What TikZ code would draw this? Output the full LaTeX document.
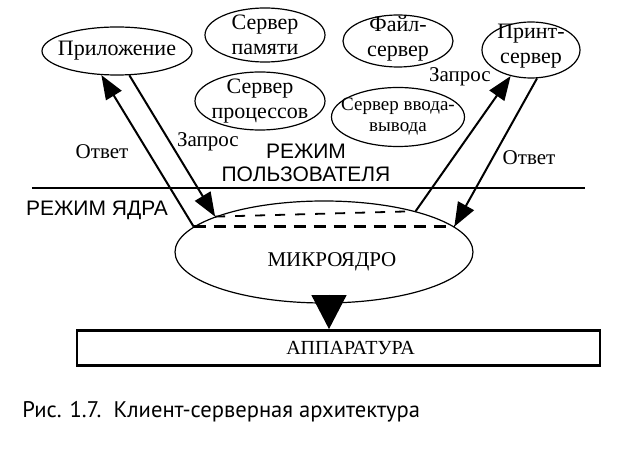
\documentclass[tikz,border=0pt]{standalone}
\usepackage{fontspec}
\setmainfont{Liberation Serif}
\newfontfamily\modefont{Liberation Sans}
\newfontfamily\captionfont{PT Sans}
\usetikzlibrary{arrows.meta,shapes.geometric}

\begin{document}
\begin{tikzpicture}[
  x=0.5pt,
  y=-0.5pt,
  every node/.style={font=\fontsize{11}{12.5}\selectfont, inner sep=0pt},
  srv/.style={ellipse, draw, line width=0.6pt},
  srvtext/.style={align=center, font=\fontsize{11}{12.5}\selectfont},
  msg/.style={line width=1pt, -{Triangle[length=12pt, width=9pt]}},
  msglabel/.style={font=\fontsize{10.5}{12}\selectfont},
  modetext/.style={font=\modefont\fontsize{10.5}{11.5}\selectfont, align=center},
  border/.style={line width=0.7pt},
  chordlow/.style={line width=1.3pt, dash pattern=on 6pt off 4pt},
  chordhigh/.style={line width=0.9pt, dash pattern=on 5pt off 5pt},
  hwbox/.style={draw, line width=1.4pt, minimum width=261.5pt, minimum height=17.5pt},
  hwarrow/.style={line width=0.6pt, -{Triangle[length=17pt, width=17.5pt]}}
]
  \useasboundingbox (0,0) rectangle (629,449);

  % ---- user mode: the processes ------------------------------------
  \node[srv, minimum width=75pt, minimum height=24pt,
    label={[srvtext]center:Приложение}] (app) at (117,51) {};
  \node[srv, minimum width=60pt, minimum height=27pt,
    label={[srvtext]center:Сервер\\памяти}] (memsrv) at (265,35) {};
  \node[srv, minimum width=65pt, minimum height=29pt,
    label={[srvtext]center:Сервер\\процессов}] (procsrv) at (260,101) {};
  \node[srv, minimum width=55pt, minimum height=26pt,
    label={[srvtext, yshift=1.2pt]center:Файл-\\сервер}] (filesrv) at (398,41) {};
  \node[srv, minimum width=49pt, minimum height=28pt,
    label={[srvtext, yshift=2pt]center:Принт-\\сервер}] (printsrv) at (531,50) {};
  \node[srv, minimum width=66.5pt, minimum height=29.5pt,
    label={[srvtext, font=\fontsize{9.5}{10.5}\selectfont]center:Сервер ввода-\\вывода}]
    (iosrv) at (398,117) {};

  \node[modetext] (usermode) at (306,163) {РЕЖИМ\\ПОЛЬЗОВАТЕЛЯ};

  % ---- boundary between the two modes ------------------------------
  \draw[border] (32,188) -- (585,188);
  \node[modetext] (kernelmode) at (97,210) {РЕЖИМ ЯДРА};

  % ---- kernel and hardware -----------------------------------------
  \node[srv, minimum width=149pt, minimum height=51pt,
    label={[font=\fontsize{10.5}{12}\selectfont, xshift=4pt, yshift=-5pt]center:МИКРОЯДРО}]
    (kern) at (324,252) {};
  \node[hwbox, label={[font=\fontsize{10}{12}\selectfont, xshift=6pt]center:АППАРАТУРА}]
    (hw) at (338.5,348) {};

  \draw[chordlow] (kern.169) -- (kern.11);
  \draw[chordhigh] (kern.162) -- (kern.24);

  \draw[hwarrow] ([xshift=2.5pt, yshift=4.5pt]kern.south)
    -- ([xshift=2.5pt]kern.south |- hw.north);

  % ---- messages ----------------------------------------------------
  \draw[msg] (kern.169) -- (app.237);
  \draw[msg] (app.297) -- (kern.162);
  \draw[msg] (kern.24) -- (printsrv.232);
  \draw[msg] (printsrv.282) -- (kern.11);

  \node[msglabel] (ansleft) at (102,152) {Ответ};
  \node[msglabel] (reqleft) at (208,142) {Запрос};
  \node[msglabel] (reqright) at (460,77) {Запрос};
  \node[msglabel] (ansright) at (529,158) {Ответ};

  % ---- caption -----------------------------------------------------
  \node[anchor=west, font=\captionfont\fontsize{11.3}{13}\selectfont] (caption)
    at (22,412) {Рис. 1.7.\ \ Клиент-серверная архитектура};
\end{tikzpicture}
\end{document}
